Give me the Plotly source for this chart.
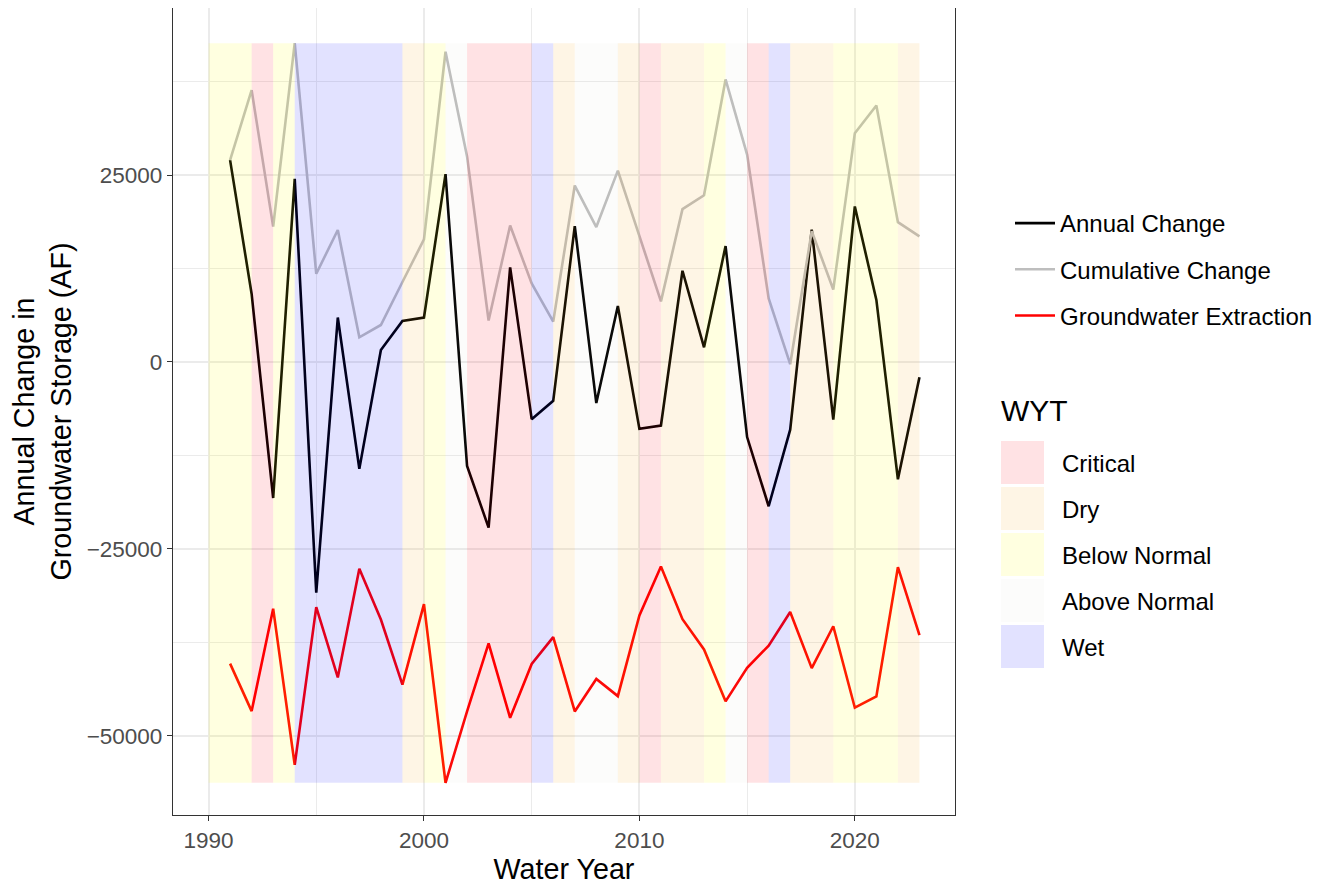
import plotly.graph_objects as go

# ---------------- data ----------------
years = list(range(1991, 2024))

annual_change = [27000, 9100, -18200, 24500, -30850, 5950, -14300, 1600, 5500, 5950,
                 25130, -13900, -22150, 12650, -7650, -5200, 18180, -5500, 7490, -8950,
                 -8500, 12200, 1960, 15500, -10050, -19300, -9050, 17700, -7700, 20800,
                 8300, -15700, -2050]

cumulative_change = [27000, 36350, 18100, 42650, 11800, 17650, 3300, 4950, 10700, 16400,
                     41500, 27500, 5550, 18250, 10500, 5400, 23600, 18050, 25600, 16700,
                     8100, 20450, 22300, 37800, 27750, 8500, -300, 17500, 9700, 30600,
                     34300, 18700, 16800]

groundwater_extraction = [-40350, -46700, -33000, -53900, -32800, -42200, -27650, -34450,
                          -43150, -32400, -56300, -46750, -37650, -47600, -40400, -36800,
                          -46750, -42400, -44700, -33900, -27350, -34400, -38450, -45400,
                          -40900, -37950, -33450, -40950, -35350, -46250, -44750, -27450,
                          -36550]

wyt = ["Below Normal", "Below Normal", "Critical", "Below Normal", "Wet", "Wet", "Wet",
       "Wet", "Wet", "Dry", "Below Normal", "Above Normal", "Critical", "Critical",
       "Critical", "Wet", "Dry", "Above Normal", "Above Normal", "Dry", "Critical", "Dry",
       "Dry", "Below Normal", "Above Normal", "Critical", "Wet", "Dry", "Dry",
       "Below Normal", "Below Normal", "Below Normal", "Dry"]

wyt_levels = ["Critical", "Dry", "Below Normal", "Above Normal", "Wet"]
wyt_fill = {
    "Critical": "rgba(255,0,20,0.115)",
    "Dry": "rgba(245,160,20,0.11)",
    "Below Normal": "rgba(255,255,0,0.12)",
    "Above Normal": "rgba(200,200,170,0.05)",
    "Wet": "rgba(0,0,255,0.115)",
}

# ---------------- figure ----------------
FONT = "Liberation Sans, Arial, sans-serif"
PAGE_OFF = 8                      # default body margin of the html page
W, H = 1327 - 2 * PAGE_OFF, 893 - 2 * PAGE_OFF
PX0, PX1, PY0, PY1 = 173, 955, 8, 815      # panel edges on the page
L, T = PX0 - PAGE_OFF, PY0 - PAGE_OFF
R = W - (PX1 - PAGE_OFF)
B = H - (PY1 - PAGE_OFF)


def px_x(px):
    return (px - PX0) / (PX1 - PX0)


def px_y(py):
    return (PY1 - py) / (PY1 - PY0)


fig = go.Figure()

series = [
    ("Annual Change", annual_change, "black"),
    ("Cumulative Change", cumulative_change, "#BEBEBE"),
    ("Groundwater Extraction", groundwater_extraction, "red"),
]
for i, (name, vals, col) in enumerate(series):
    fig.add_trace(go.Scatter(
        x=years, y=vals, mode="lines", name=name,
        line=dict(color=col, width=2.6),
        legendgroup="g%d" % i,
    ))

all_vals = annual_change + cumulative_change + groundwater_extraction
ymin, ymax = min(all_vals), max(all_vals)

for lvl in wyt_levels:
    xs, ys = [], []
    for yr, w in zip(years, wyt):
        if w == lvl:
            xs += [yr - 1, yr, yr, yr - 1, yr - 1, None]
            ys += [ymin, ymin, ymax, ymax, ymin, None]
    fig.add_trace(go.Scatter(
        x=xs, y=ys, mode="lines", fill="toself", fillcolor=wyt_fill[lvl],
        line=dict(width=0, color="rgba(0,0,0,0)"), name=lvl,
        showlegend=False, hoverinfo="skip",
    ))

# manual WYT key (ggplot-style square keys)
shapes = []
annotations = []
annotations.append(dict(
    text="WYT", xref="paper", yref="paper", x=px_x(999), y=px_y(410),
    xanchor="left", yanchor="middle", showarrow=False,
    font=dict(family=FONT, size=30, color="black"),
))
for i, lvl in enumerate(wyt_levels):
    top = 441 + 46 * i
    shapes.append(dict(
        type="rect", xref="paper", yref="paper",
        x0=px_x(1001), x1=px_x(1044), y0=px_y(top + 43), y1=px_y(top),
        fillcolor=wyt_fill[lvl], line=dict(width=0), layer="above",
    ))
    annotations.append(dict(
        text=lvl, xref="paper", yref="paper", x=px_x(1060), y=px_y(top + 22),
        xanchor="left", yanchor="middle", showarrow=False,
        font=dict(family=FONT, size=24, color="black"),
    ))

grid_major = "#EBEBEB"
fig.update_layout(
    width=W, height=H,
    margin=dict(l=L, r=R, t=T, b=B, autoexpand=False),
    paper_bgcolor="white", plot_bgcolor="white",
    font=dict(family=FONT, size=22.5, color="black"),
    showlegend=True,
    legend=dict(
        x=px_x(1010), y=px_y(201), xanchor="left", yanchor="top",
        font=dict(family=FONT, size=24, color="black"),
        traceorder="grouped", tracegroupgap=12,
        bgcolor="rgba(0,0,0,0)", itemwidth=40,
    ),
    shapes=shapes,
    annotations=annotations,
    xaxis=dict(
        range=[1988.35, 2024.65], tick0=1990, dtick=10,
        showgrid=True, gridcolor=grid_major, gridwidth=2,
        minor=dict(dtick=5, tick0=1990, showgrid=True, gridcolor=grid_major, gridwidth=1),
        showline=True, mirror=True, linecolor="#333333", linewidth=1.3,
        ticks="outside", ticklen=5, tickcolor="#333333", tickwidth=1.3,
        tickfont=dict(family=FONT, size=22.5, color="#4D4D4D"),
        zeroline=False,
        title=dict(text="Water Year", font=dict(family=FONT, size=28.7, color="black"), standoff=15),
    ),
    yaxis=dict(
        range=[-60600, 47350], tickvals=[-50000, -25000, 0, 25000], tickformat="d",
        showgrid=True, gridcolor=grid_major, gridwidth=2,
        minor=dict(tickvals=[-37500, -12500, 12500, 37500], showgrid=True,
                   gridcolor=grid_major, gridwidth=1),
        showline=True, mirror=True, linecolor="#333333", linewidth=1.3,
        ticks="outside", ticklen=5, tickcolor="#333333", tickwidth=1.3,
        tickfont=dict(family=FONT, size=22.5, color="#4D4D4D"),
        zeroline=False,
        title=dict(text="Annual Change in<br>Groundwater Storage (AF)",
                   font=dict(family=FONT, size=28.7, color="black"), standoff=9),
    ),
)

fig.write_html("out.html")
